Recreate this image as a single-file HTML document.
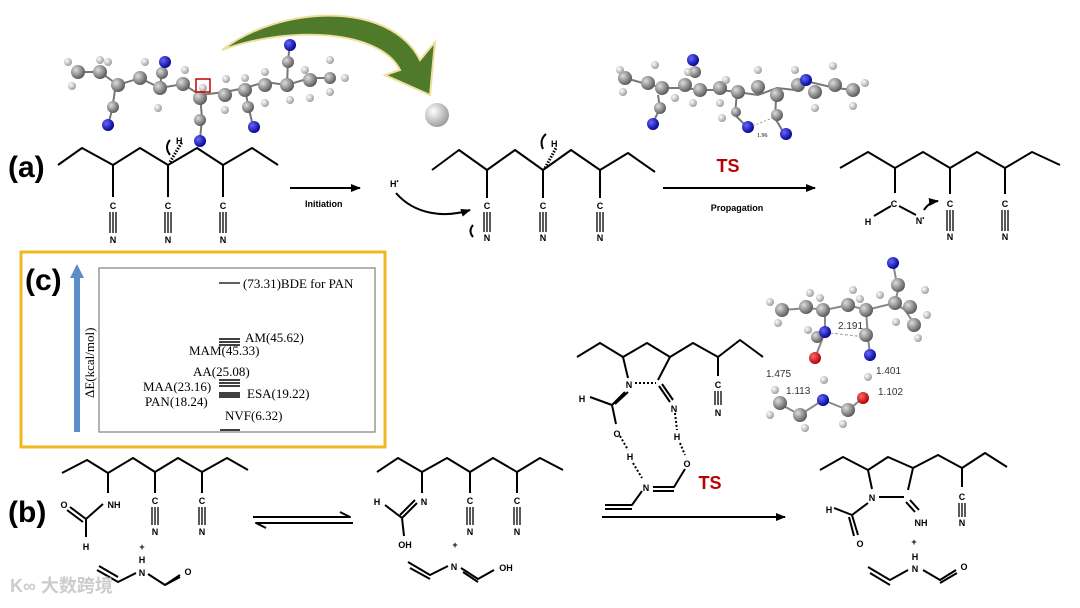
<!DOCTYPE html>
<html><head><meta charset="utf-8"><style>
html,body{margin:0;padding:0;background:#fff;}
svg{display:block;font-family:"Liberation Sans",Arial,sans-serif;}
.b{stroke:#000;stroke-width:2;fill:none;stroke-linejoin:round}
.t{font-size:9px;font-weight:bold}
.s{font-family:"Liberation Serif",serif;font-size:13px}
</style></head><body>
<svg width="1080" height="608" viewBox="0 0 1080 608" xmlns="http://www.w3.org/2000/svg">
<defs>
<radialGradient id="g" cx="35%" cy="35%" r="70%"><stop offset="0" stop-color="#ddd"/><stop offset="1" stop-color="#555"/></radialGradient>
<radialGradient id="w" cx="35%" cy="35%" r="70%"><stop offset="0" stop-color="#fff"/><stop offset="1" stop-color="#999"/></radialGradient>
<radialGradient id="bl" cx="35%" cy="35%" r="70%"><stop offset="0" stop-color="#66f"/><stop offset="1" stop-color="#00008a"/></radialGradient>
<radialGradient id="rd" cx="35%" cy="35%" r="70%"><stop offset="0" stop-color="#f66"/><stop offset="1" stop-color="#a00"/></radialGradient>
<marker id="ah" markerWidth="10" markerHeight="8" refX="9" refY="4" orient="auto" markerUnits="userSpaceOnUse"><path d="M0,0L10,4L0,8z" fill="#000"/></marker>
</defs>

<!-- green arrow -->
<path d="M222,50 C280,5 390,0 420,60 L435,42 L430,95 L385,75 L400,70 C380,30 290,25 222,50z" fill="#4e7a2a" stroke="#f0e0a0" stroke-width="2"/>
<circle cx="437" cy="115" r="12" fill="url(#w)"/>

<!-- molecule 1 -->
<g stroke="#777" stroke-width="2">
<path d="M78,72 L100,72 L118,85 L140,78 L160,88 L183,84 L200,95 L225,92 L245,88 L265,82 L287,85 L310,78 L330,78" fill="none"/>
<path d="M115,90 L112,110 L108,125 M160,88 L162,70 L165,62 M200,95 L202,118 L200,140 M245,88 L248,105 L253,126 M287,85 L288,60 L290,45" fill="none"/>
</g>
<g fill="url(#g)">
<circle cx="78" cy="72" r="7"/><circle cx="100" cy="72" r="7"/><circle cx="118" cy="85" r="7"/><circle cx="140" cy="78" r="7"/><circle cx="160" cy="88" r="7"/><circle cx="183" cy="84" r="7"/><circle cx="200" cy="98" r="7"/><circle cx="225" cy="95" r="7"/><circle cx="245" cy="90" r="7"/><circle cx="265" cy="85" r="7"/><circle cx="287" cy="85" r="7"/><circle cx="310" cy="80" r="7"/><circle cx="330" cy="78" r="6"/>
<circle cx="113" cy="107" r="6"/><circle cx="162" cy="73" r="6"/><circle cx="200" cy="120" r="6"/><circle cx="248" cy="107" r="6"/><circle cx="288" cy="62" r="6"/>
</g>
<g fill="url(#w)">
<circle cx="68" cy="62" r="4"/><circle cx="72" cy="86" r="4"/><circle cx="100" cy="60" r="4"/><circle cx="108" cy="62" r="4"/><circle cx="145" cy="62" r="4"/><circle cx="158" cy="108" r="4"/><circle cx="185" cy="70" r="4"/><circle cx="203" cy="88" r="4"/><circle cx="225" cy="110" r="4"/><circle cx="226" cy="79" r="4"/><circle cx="245" cy="78" r="4"/><circle cx="265" cy="103" r="4"/><circle cx="265" cy="72" r="4"/><circle cx="290" cy="100" r="4"/><circle cx="305" cy="70" r="4"/><circle cx="310" cy="98" r="4"/><circle cx="330" cy="60" r="4"/><circle cx="330" cy="92" r="4"/><circle cx="345" cy="78" r="4"/>
</g>
<g fill="url(#bl)"><circle cx="108" cy="125" r="6"/><circle cx="165" cy="62" r="6"/><circle cx="200" cy="141" r="6"/><circle cx="254" cy="127" r="6"/><circle cx="290" cy="45" r="6"/></g>
<rect x="196" y="79" width="14" height="13" fill="none" stroke="#c00" stroke-width="1.5"/>

<!-- molecule 2 -->
<g stroke="#777" stroke-width="2" fill="none"><path d="M625,78 L650,85 L665,88 L685,88 L700,90 L720,90 L737,92 L758,95 L777,88 L795,90 L810,82 L835,88 L855,90"/><path d="M658,95 L660,108 L652,125 M693,75 L695,62 M737,92 L735,115 L748,128 M776,100 L775,118 L785,135"/></g>
<g fill="url(#g)"><circle cx="625" cy="78" r="7"/><circle cx="648" cy="83" r="7"/><circle cx="662" cy="88" r="7"/><circle cx="685" cy="85" r="7"/><circle cx="700" cy="90" r="7"/><circle cx="720" cy="88" r="7"/><circle cx="738" cy="92" r="7"/><circle cx="758" cy="87" r="7"/><circle cx="777" cy="95" r="7"/><circle cx="798" cy="85" r="7"/><circle cx="815" cy="92" r="7"/><circle cx="835" cy="85" r="7"/><circle cx="853" cy="90" r="7"/><circle cx="660" cy="108" r="6"/><circle cx="695" cy="72" r="6"/><circle cx="736" cy="112" r="5"/><circle cx="777" cy="115" r="6"/></g>
<g fill="url(#w)"><circle cx="620" cy="70" r="4"/><circle cx="623" cy="92" r="4"/><circle cx="655" cy="65" r="4"/><circle cx="675" cy="98" r="4"/><circle cx="688" cy="72" r="4"/><circle cx="693" cy="103" r="4"/><circle cx="720" cy="103" r="4"/><circle cx="726" cy="80" r="4"/><circle cx="758" cy="70" r="4"/><circle cx="722" cy="118" r="4"/><circle cx="795" cy="70" r="4"/><circle cx="815" cy="108" r="4"/><circle cx="833" cy="66" r="4"/><circle cx="865" cy="83" r="4"/><circle cx="853" cy="106" r="4"/></g>
<g fill="url(#bl)"><circle cx="653" cy="124" r="6"/><circle cx="693" cy="60" r="6"/><circle cx="748" cy="127" r="6"/><circle cx="786" cy="134" r="6"/><circle cx="806" cy="80" r="6"/></g>
<line x1="753" y1="126" x2="772" y2="118" stroke="#999" stroke-dasharray="2,2"/>
<text x="757" y="137" font-family="Liberation Serif" font-size="6">1.96</text>

<!-- (a) -->
<text x="8" y="177" font-size="30" font-weight="bold">(a)</text>
<polyline class="b" points="58,165 82,148 113,165 140,148 168,165 197,148 223,165 252,148 278,165"/>
<g class="b"><path d="M113,165V197 M168,165V197 M223,165V197"/></g>
<line x1="170" y1="162" x2="182" y2="142" stroke="#000" stroke-width="3" stroke-dasharray="1.5,1.5"/>
<text class="t" x="176" y="144">H</text><path d="M170,140 q-6,7 0,15" class="b" stroke-width="1.3"/>
<g id="nit">
</g>
<g class="t" text-anchor="middle">
<text x="113" y="209">C</text><text x="113" y="243">N</text>
<text x="168" y="209">C</text><text x="168" y="243">N</text>
<text x="223" y="209">C</text><text x="223" y="243">N</text>
</g>
<g stroke="#000" stroke-width="1.3"><path d="M110,212V233M113,212V233M116,212V233M165,212V233M168,212V233M171,212V233M220,212V233M223,212V233M226,212V233"/></g>

<line x1="290" y1="188" x2="360" y2="188" stroke="#000" stroke-width="2" marker-end="url(#ah)"/>
<text class="t" x="305" y="207" font-size="10">Initiation</text>
<text class="t" x="390" y="187">H<tspan font-size="6" dy="-4">•</tspan></text>
<path d="M396,193 C415,215 445,218 470,210" class="b" stroke-width="1.5" marker-end="url(#ah)"/>

<polyline class="b" points="432,170 459,150 487,170 515,150 543,170 571,150 600,170 628,153 655,172"/>
<path class="b" d="M487,170V198 M543,170V198 M600,170V198"/>
<line x1="545" y1="168" x2="556" y2="148" stroke="#000" stroke-width="3" stroke-dasharray="1.5,1.5"/>
<text class="t" x="551" y="147">H</text><path d="M546,134 q-7,6 -3,15" class="b" stroke-width="1.3"/>
<g class="t" text-anchor="middle"><text x="487" y="209">C</text><text x="487" y="241">N</text><text x="543" y="209">C</text><text x="543" y="241">N</text><text x="600" y="209">C</text><text x="600" y="241">N</text></g>
<g stroke="#000" stroke-width="1.3"><path d="M484,212V232M487,212V232M490,212V232M540,212V232M543,212V232M546,212V232M597,212V232M600,212V232M603,212V232"/></g>
<path d="M473,225 q-5,6 0,12" class="b" stroke-width="1.3"/>

<text x="728" y="172" font-size="18" font-weight="bold" fill="#b00" text-anchor="middle">TS</text>
<line x1="663" y1="188" x2="815" y2="188" stroke="#000" stroke-width="2" marker-end="url(#ah)"/>
<text class="t" x="737" y="211" font-size="10" text-anchor="middle">Propagation</text>

<polyline class="b" points="840,168 868,152 895,168 923,152 950,168 977,152 1005,168 1032,152 1060,165"/>
<path class="b" d="M895,168V193 M950,168V194 M1005,168V194 M891,206 L874,216 M899,206 L916,215"/>
<g class="t" text-anchor="middle"><text x="894" y="207">C</text><text x="868" y="225">H</text><text x="920" y="224">N<tspan font-size="6" dy="-4">•</tspan></text><text x="950" y="207">C</text><text x="950" y="240">N</text><text x="1005" y="207">C</text><text x="1005" y="240">N</text></g>
<g stroke="#000" stroke-width="1.3"><path d="M947,210V231M950,210V231M953,210V231M1002,210V231M1005,210V231M1008,210V231"/></g>
<path d="M924,210 q5,-8 14,-9" class="b" stroke-width="1.3" marker-end="url(#ah)"/>

<!-- (c) -->
<rect x="21" y="252" width="364" height="195" fill="none" stroke="#f0b820" stroke-width="3"/>
<rect x="99" y="268" width="276" height="164" fill="none" stroke="#888" stroke-width="1.3"/>
<line x1="77" y1="432" x2="77" y2="275" stroke="#5b8ec8" stroke-width="6"/>
<path d="M70,278 L77,264 L84,278z" fill="#5b8ec8"/>
<text x="25" y="290" font-size="30" font-weight="bold">(c)</text>
<text class="s" transform="translate(94,398) rotate(-90)" font-size="14">ΔE(kcal/mol)</text>
<line x1="219" y1="283" x2="240" y2="283" stroke="#000" stroke-width="1.3"/>
<text class="s" x="243" y="288">(73.31)BDE for PAN</text>
<g stroke="#000" stroke-width="1.5"><path d="M219,339H240M219,342H240M219,345H240M219,380H240M219,383H240M219,386H240M219,393H240M219,395H240M219,397H240M220,430H240"/></g>
<g class="s"><text x="245" y="342">AM(45.62)</text><text x="189" y="355">MAM(45.33)</text><text x="193" y="376">AA(25.08)</text><text x="143" y="391">MAA(23.16)</text><text x="247" y="398">ESA(19.22)</text><text x="145" y="406">PAN(18.24)</text><text x="225" y="420">NVF(6.32)</text></g>

<!-- (b) -->
<text x="8" y="522" font-size="30" font-weight="bold">(b)</text>
<polyline class="b" points="62,473 87,460 108,473 133,458 155,472 178,458 202,472 227,458 248,470"/>
<path class="b" d="M108,473V493 M155,472V493 M202,472V493 M103,504 L86,519 L86,537 M86,519 L70,507 M83,522 L67,510"/>
<g class="t" text-anchor="middle" font-size="11"><text x="114" y="508">NH</text><text x="64" y="508">O</text><text x="86" y="550">H</text><text x="155" y="504">C</text><text x="155" y="535">N</text><text x="202" y="504">C</text><text x="202" y="535">N</text><text x="142" y="550">+</text><text x="142" y="563" font-size="9">H</text><text x="142" y="576">N</text><text x="188" y="575">O</text></g>
<g stroke="#000" stroke-width="1.3"><path d="M152,507V525M155,507V525M158,507V525M199,507V525M202,507V525M205,507V525"/></g>
<path class="b" stroke-width="1.5" d="M97,570 L118,582 L136,573 M99,566 L118,577 M148,574 L165,585 L180,575 M165,585 L180,577"/>
<path class="b" stroke-width="1.3" d="M253,517H350 L340,512 M353,523H256 L266,528"/>

<polyline class="b" points="377,472 398,458 422,472 447,458 470,472 493,458 517,472 540,458 563,470"/>
<path class="b" d="M422,472V493 M470,472V493 M517,472V493 M417,503 L402,518 L404,536 M400,515 L415,500 M402,518 L385,505"/>
<g class="t" text-anchor="middle" font-size="11"><text x="424" y="505">N</text><text x="377" y="505">H</text><text x="405" y="548">OH</text><text x="470" y="504">C</text><text x="470" y="535">N</text><text x="517" y="504">C</text><text x="517" y="535">N</text><text x="455" y="548">+</text><text x="454" y="570">N</text><text x="506" y="571">OH</text></g>
<g stroke="#000" stroke-width="1.3"><path d="M467,507V525M470,507V525M473,507V525M514,507V525M517,507V525M520,507V525"/></g>
<path class="b" stroke-width="1.5" d="M408,562 L430,575 L448,566 M410,568 L430,579 M461,568 L478,579 L494,570 M463,572 L478,582"/>

<!-- middle TS -->
<polyline class="b" points="577,357 600,343 623,357 647,343 670,357 693,343 718,357 740,340 763,357"/>
<path class="b" d="M623,357 L628,378 M670,357 L658,380 M718,357V376 M625,392 L612,405 L590,397 M628,392 L615,404 M612,405 L616,424 M659,386 L670,402 M662,384 L673,400 M653,487 L674,487 L685,469 M653,491 L674,491 M642,491 L632,505 L605,505 M632,509 L605,509"/>
<g stroke="#000" stroke-width="2" stroke-dasharray="2,2" fill="none"><path d="M635,383H656 M620,436 L628,450 M633,463 L642,478 M675,413 L677,430 M680,443 L685,455"/></g>
<g class="t" text-anchor="middle" font-size="11"><text x="629" y="388">N</text><text x="582" y="402">H</text><text x="617" y="437">O</text><text x="630" y="460">H</text><text x="674" y="412">N</text><text x="677" y="440">H</text><text x="687" y="467">O</text><text x="646" y="491">N</text><text x="718" y="388">C</text><text x="718" y="416">N</text></g>
<g stroke="#000" stroke-width="1.3"><path d="M715,391V405M718,391V405M721,391V405"/></g>
<text x="710" y="489" font-size="18" font-weight="bold" fill="#b00" text-anchor="middle">TS</text>
<line x1="602" y1="517" x2="785" y2="517" stroke="#000" stroke-width="2" marker-end="url(#ah)"/>

<!-- product -->
<polyline class="b" points="820,470 843,457 868,470 888,457 913,468 938,455 962,468 985,453 1007,467"/>
<path class="b" d="M868,470 L872,489 M913,468 L908,490 M879,497H904 M906,502 L915,512 M910,500 L919,510 M868,503 L852,515 L834,508 M852,515 L858,535 M849,517 L854,536 M962,468V487"/>
<g class="t" text-anchor="middle" font-size="11"><text x="872" y="501">N</text><text x="829" y="513">H</text><text x="860" y="547">O</text><text x="921" y="526">NH</text><text x="962" y="500">C</text><text x="962" y="526">N</text><text x="914" y="545">+</text><text x="915" y="560" font-size="9">H</text><text x="915" y="572">N</text><text x="964" y="570">O</text></g>
<g stroke="#000" stroke-width="1.3"><path d="M959,503V517M962,503V517M965,503V517"/></g>
<path class="b" stroke-width="1.5" d="M868,567 L890,580 L908,570 M870,573 L890,585 M923,570 L940,580 L956,570 M940,583 L957,573"/>

<!-- 3D right -->
<g stroke="#888" stroke-width="2" fill="none"><path d="M782,310 L808,308 L825,310 L848,305 L866,310 L895,303 L905,310 L915,325 M825,310 L825,332 L815,358 M866,310 L868,337 L870,355 M895,303 L898,290 L893,263 M823,400 L848,410 L863,398 M823,400 L800,415 L782,405"/></g>
<line x1="830" y1="333" x2="866" y2="337" stroke="#999" stroke-dasharray="3,2"/>
<g fill="url(#g)"><circle cx="782" cy="310" r="7"/><circle cx="806" cy="307" r="7"/><circle cx="823" cy="310" r="7"/><circle cx="848" cy="305" r="7"/><circle cx="866" cy="310" r="7"/><circle cx="895" cy="303" r="7"/><circle cx="910" cy="307" r="7"/><circle cx="914" cy="325" r="7"/><circle cx="817" cy="337" r="6"/><circle cx="866" cy="335" r="7"/><circle cx="898" cy="285" r="7"/><circle cx="848" cy="410" r="7"/><circle cx="800" cy="415" r="7"/><circle cx="780" cy="403" r="7"/></g>
<g fill="url(#w)"><circle cx="770" cy="302" r="4"/><circle cx="778" cy="323" r="4"/><circle cx="810" cy="293" r="4"/><circle cx="820" cy="298" r="4"/><circle cx="853" cy="290" r="4"/><circle cx="860" cy="299" r="4"/><circle cx="880" cy="295" r="4"/><circle cx="925" cy="290" r="4"/><circle cx="896" cy="322" r="4"/><circle cx="927" cy="315" r="4"/><circle cx="918" cy="338" r="4"/><circle cx="808" cy="330" r="4"/><circle cx="824" cy="380" r="4"/><circle cx="868" cy="377" r="4"/><circle cx="775" cy="390" r="4"/><circle cx="770" cy="415" r="4"/><circle cx="805" cy="428" r="4"/><circle cx="843" cy="424" r="4"/></g>
<g fill="url(#bl)"><circle cx="893" cy="263" r="6"/><circle cx="825" cy="332" r="6"/><circle cx="870" cy="355" r="6"/><circle cx="823" cy="400" r="6"/></g>
<g fill="url(#rd)"><circle cx="815" cy="358" r="6"/><circle cx="863" cy="398" r="6"/></g>
<g font-size="10" fill="#333"><text x="838" y="329">2.191</text><text x="766" y="377">1.475</text><text x="876" y="374">1.401</text><text x="786" y="394">1.113</text><text x="878" y="395">1.102</text></g>

<!-- watermark -->
<text x="10" y="592" font-family="'Liberation Sans','Noto Sans CJK SC',sans-serif" font-size="18" fill="#ccc" font-weight="bold">K∞ 大数跨境</text>
</svg>
</body></html>
